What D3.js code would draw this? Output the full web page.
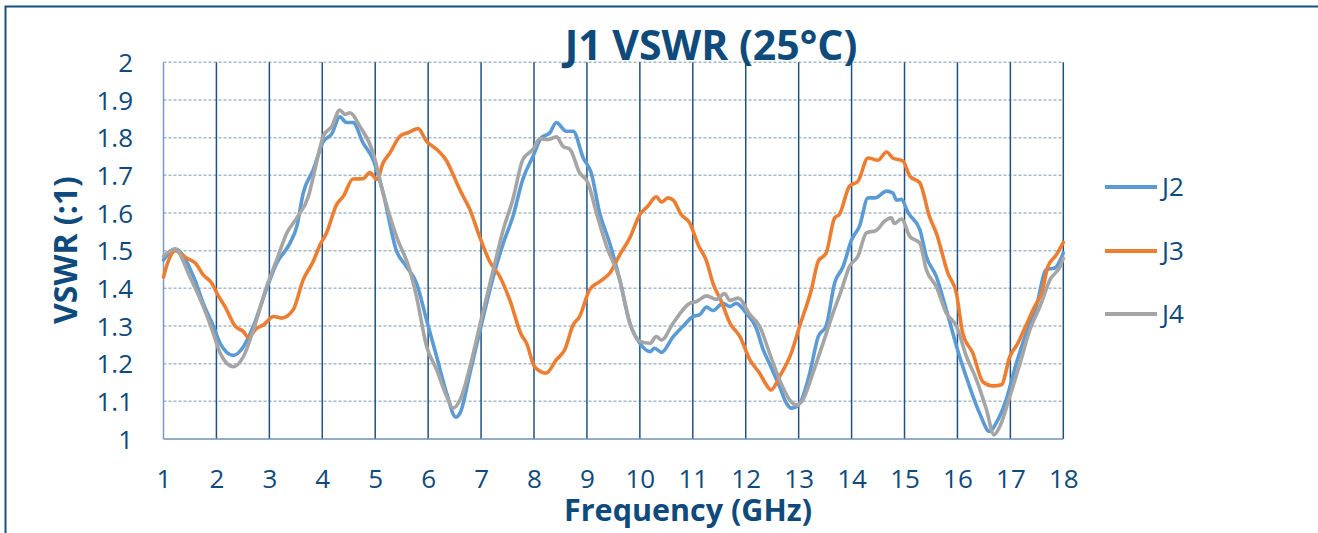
<!DOCTYPE html>
<html>
<head>
<meta charset="utf-8">
<script src="https://cdn.jsdelivr.net/npm/d3@7"></script>
<style>
  html, body { margin: 0; padding: 0; background: #ffffff; }
  svg { display: block; }
  text { font-family: "Open Sans", "Noto Sans", sans-serif; }
</style>
</head>
<body>
<svg id="chart" width="1318" height="533"></svg>
<script>
// ---------- data ----------
const title = "J1 VSWR (25°C)";
const xTitle = "Frequency (GHz)";
const yTitle = "VSWR (:1)";
const xTicks = [1,2,3,4,5,6,7,8,9,10,11,12,13,14,15,16,17,18];
const yTicks = [1,1.1,1.2,1.3,1.4,1.5,1.6,1.7,1.8,1.9,2];
const seriesNames = ["J2", "J3", "J4"];
const seriesColors = ["#5b9bd5", "#ed7d31", "#a5a5a5"];

const j2Freq = [1.0,1.22,1.57,1.75,1.94,2.07,2.32,2.51,2.70,2.95,3.14,3.39,3.52,3.64,3.83,4.02,4.18,4.33,4.46,4.58,4.77,4.96,5.15,5.40,5.59,5.78,5.97,6.16,6.35,6.52,6.60,6.79,7.0,7.23,7.42,7.60,7.79,7.98,8.14,8.30,8.42,8.61,8.74,8.93,9.08,9.24,9.43,9.62,9.81,10.0,10.19,10.28,10.41,10.63,10.82,11.0,11.13,11.26,11.38,11.57,11.70,11.82,12.01,12.20,12.33,12.45,12.64,12.77,12.86,13.02,13.21,13.37,13.52,13.68,13.84,14.0,14.15,14.31,14.44,14.66,14.78,14.85,14.94,15.07,15.29,15.41,15.60,15.79,16.04,16.23,16.42,16.61,16.73,16.92,17.11,17.30,17.49,17.68,17.84,18.0];
const j2Vals = [1.475,1.504,1.43,1.36,1.30,1.254,1.222,1.245,1.30,1.40,1.467,1.52,1.565,1.653,1.715,1.79,1.81,1.855,1.84,1.84,1.786,1.742,1.653,1.50,1.458,1.414,1.316,1.219,1.121,1.058,1.068,1.175,1.30,1.43,1.52,1.59,1.69,1.75,1.80,1.813,1.84,1.817,1.817,1.746,1.707,1.60,1.52,1.423,1.308,1.254,1.232,1.241,1.23,1.272,1.30,1.325,1.33,1.35,1.341,1.36,1.352,1.36,1.334,1.294,1.237,1.20,1.139,1.095,1.082,1.095,1.175,1.272,1.30,1.414,1.458,1.529,1.565,1.64,1.64,1.658,1.653,1.634,1.636,1.60,1.556,1.485,1.432,1.343,1.219,1.139,1.068,1.02,1.042,1.104,1.20,1.281,1.352,1.45,1.454,1.494];

const j3Freq = [1.0,1.09,1.22,1.44,1.60,1.75,1.91,2.04,2.16,2.35,2.51,2.60,2.76,2.89,3.08,3.23,3.45,3.64,3.83,3.96,4.08,4.27,4.40,4.58,4.77,4.90,5.03,5.15,5.28,5.47,5.62,5.81,5.97,6.16,6.35,6.47,6.63,6.79,6.97,7.16,7.35,7.54,7.76,7.86,8.01,8.23,8.42,8.58,8.74,8.86,9.05,9.24,9.43,9.62,9.81,10.0,10.15,10.31,10.41,10.53,10.63,10.78,10.94,11.10,11.26,11.38,11.54,11.70,11.89,12.08,12.26,12.39,12.48,12.64,12.86,13.02,13.24,13.37,13.52,13.68,13.77,13.96,14.12,14.31,14.50,14.66,14.78,14.97,15.10,15.29,15.47,15.60,15.82,15.98,16.10,16.29,16.48,16.67,16.83,16.99,17.14,17.30,17.46,17.59,17.71,17.87,18.0];
const j3Vals = [1.43,1.472,1.50,1.48,1.467,1.436,1.414,1.379,1.352,1.30,1.285,1.27,1.294,1.303,1.325,1.321,1.343,1.423,1.472,1.516,1.547,1.622,1.645,1.69,1.691,1.707,1.689,1.733,1.76,1.804,1.813,1.824,1.79,1.769,1.738,1.702,1.653,1.609,1.538,1.472,1.432,1.37,1.277,1.254,1.192,1.175,1.21,1.237,1.303,1.325,1.396,1.418,1.44,1.489,1.534,1.596,1.618,1.643,1.629,1.64,1.634,1.596,1.574,1.516,1.472,1.414,1.365,1.308,1.272,1.21,1.175,1.144,1.13,1.166,1.228,1.30,1.396,1.472,1.494,1.587,1.596,1.671,1.684,1.746,1.74,1.762,1.746,1.738,1.698,1.68,1.591,1.547,1.44,1.387,1.281,1.228,1.152,1.141,1.144,1.219,1.254,1.303,1.352,1.387,1.458,1.489,1.522];

const j4Freq = [1.0,1.22,1.50,1.75,1.94,2.07,2.32,2.51,2.70,2.95,3.14,3.33,3.52,3.74,3.89,4.02,4.18,4.33,4.43,4.52,4.71,4.96,5.15,5.40,5.65,5.78,5.97,6.16,6.35,6.47,6.63,6.79,7.0,7.23,7.42,7.60,7.79,7.98,8.11,8.27,8.42,8.55,8.68,8.86,9.02,9.18,9.37,9.62,9.81,10.0,10.19,10.31,10.41,10.63,10.94,11.07,11.26,11.45,11.60,11.70,11.86,12.08,12.26,12.45,12.64,12.83,12.96,13.08,13.27,13.46,13.65,13.81,13.96,14.12,14.28,14.47,14.62,14.75,14.81,14.94,15.10,15.29,15.41,15.60,15.79,15.98,16.17,16.36,16.55,16.69,16.80,16.99,17.18,17.37,17.56,17.75,17.94,18.0];
const j4Vals = [1.485,1.504,1.43,1.352,1.281,1.228,1.192,1.219,1.29,1.405,1.476,1.547,1.587,1.645,1.733,1.804,1.83,1.873,1.862,1.866,1.83,1.76,1.653,1.538,1.45,1.378,1.246,1.184,1.113,1.082,1.113,1.192,1.316,1.449,1.556,1.636,1.742,1.769,1.797,1.795,1.802,1.777,1.769,1.707,1.68,1.60,1.512,1.423,1.308,1.259,1.254,1.272,1.263,1.308,1.36,1.365,1.38,1.371,1.386,1.368,1.374,1.33,1.30,1.228,1.157,1.104,1.09,1.104,1.175,1.254,1.334,1.396,1.458,1.485,1.547,1.554,1.578,1.587,1.572,1.584,1.538,1.52,1.45,1.405,1.334,1.30,1.219,1.157,1.077,1.011,1.033,1.113,1.20,1.29,1.352,1.423,1.458,1.48];

// ---------- drawing ----------
const textColor = "#0e4a7b";
const svg = d3.select("#chart");

// outer chart border (extends past the right and bottom edges)
svg.append("rect")
  .attr("x", 5.5).attr("y", 6.5)
  .attr("width", 1400).attr("height", 600)
  .attr("fill", "none").attr("stroke", "#1a4f7d").attr("stroke-width", 2);

const x = d3.scaleLinear().domain([1, 18]).range([163.5, 1063.3]);
const y = d3.scaleLinear().domain([1, 2]).range([439, 62.3]);

// horizontal dashed gridlines
svg.append("g")
  .selectAll("line")
  .data(yTicks.filter(v => v > 1))
  .join("line")
  .attr("x1", x(1)).attr("x2", x(18))
  .attr("y1", d => y(d)).attr("y2", d => y(d))
  .attr("stroke", "#a3bacd").attr("stroke-width", 1.5)
  .attr("stroke-dasharray", "3,2");

// vertical solid gridlines
svg.append("g")
  .selectAll("line")
  .data(xTicks.filter(v => v > 1))
  .join("line")
  .attr("x1", d => x(d)).attr("x2", d => x(d))
  .attr("y1", y(2)).attr("y2", y(1))
  .attr("stroke", "#1f5282").attr("stroke-width", 1.5);

// axis lines (left and bottom)
svg.append("line")
  .attr("x1", x(1)).attr("x2", x(1)).attr("y1", y(2)).attr("y2", y(1))
  .attr("stroke", "#7a9bbb").attr("stroke-width", 1.5);
svg.append("line")
  .attr("x1", x(1)).attr("x2", x(18)).attr("y1", y(1)).attr("y2", y(1))
  .attr("stroke", "#6f92b3").attr("stroke-width", 1.5);

// Y tick labels
const yAxis = d3.axisLeft(y).tickValues(yTicks).tickSize(0).tickPadding(0)
  .tickFormat(d => d3.format("")(+d.toFixed(1)));
const gy = svg.append("g").attr("transform", "translate(133,0)").call(yAxis);
gy.select(".domain").remove();
gy.selectAll("text")
  .attr("fill", textColor)
  .style("font-family", '"Open Sans", sans-serif')
  .style("font-size", "26px")
  .attr("dy", "0.35em");

// X tick labels
const xAxis = d3.axisBottom(x).tickValues(xTicks).tickSize(0).tickPadding(0)
  .tickFormat(d3.format("d"));
const gx = svg.append("g").attr("transform", "translate(0,470)").call(xAxis);
gx.select(".domain").remove();
gx.selectAll("text")
  .attr("fill", textColor)
  .style("font-family", '"Open Sans", sans-serif')
  .style("font-size", "26px")
  .attr("dy", "0.71em");

// series lines
const series = [
  { name: seriesNames[0], color: seriesColors[0], f: j2Freq, v: j2Vals },
  { name: seriesNames[1], color: seriesColors[1], f: j3Freq, v: j3Vals },
  { name: seriesNames[2], color: seriesColors[2], f: j4Freq, v: j4Vals }
];
const line = d3.line()
  .x(d => x(d[0])).y(d => y(d[1]))
  .curve(d3.curveMonotoneX);

svg.append("g")
  .selectAll("path")
  .data(series)
  .join("path")
  .attr("d", s => line(s.f.map((f, i) => [f, s.v[i]])))
  .attr("fill", "none")
  .attr("stroke", s => s.color)
  .attr("stroke-width", 3.6)
  .attr("stroke-linejoin", "round")
  .attr("stroke-linecap", "round");

// legend
const legendY = [187, 251, 314];
const lg = svg.append("g");
series.forEach((s, i) => {
  lg.append("line")
    .attr("x1", 1105).attr("x2", 1157)
    .attr("y1", legendY[i]).attr("y2", legendY[i])
    .attr("stroke", s.color).attr("stroke-width", 4);
  lg.append("text")
    .attr("x", 1162).attr("y", legendY[i])
    .attr("dy", "0.35em")
    .attr("fill", textColor)
    .style("font-size", "26px")
    .text(s.name);
});

// title
svg.append("text")
  .attr("x", 711).attr("y", 60)
  .attr("text-anchor", "middle")
  .attr("fill", textColor)
  .style("font-size", "41px").style("font-weight", "bold")
  .text(title);

// x axis title
svg.append("text")
  .attr("x", 688).attr("y", 521)
  .attr("text-anchor", "middle")
  .attr("fill", textColor)
  .style("font-size", "30.5px").style("font-weight", "bold")
  .text(xTitle);

// y axis title
svg.append("text")
  .attr("transform", "translate(77,250) rotate(-90)")
  .attr("text-anchor", "middle")
  .attr("fill", textColor)
  .style("font-size", "32px").style("font-weight", "bold")
  .text(yTitle);
</script>
</body>
</html>
